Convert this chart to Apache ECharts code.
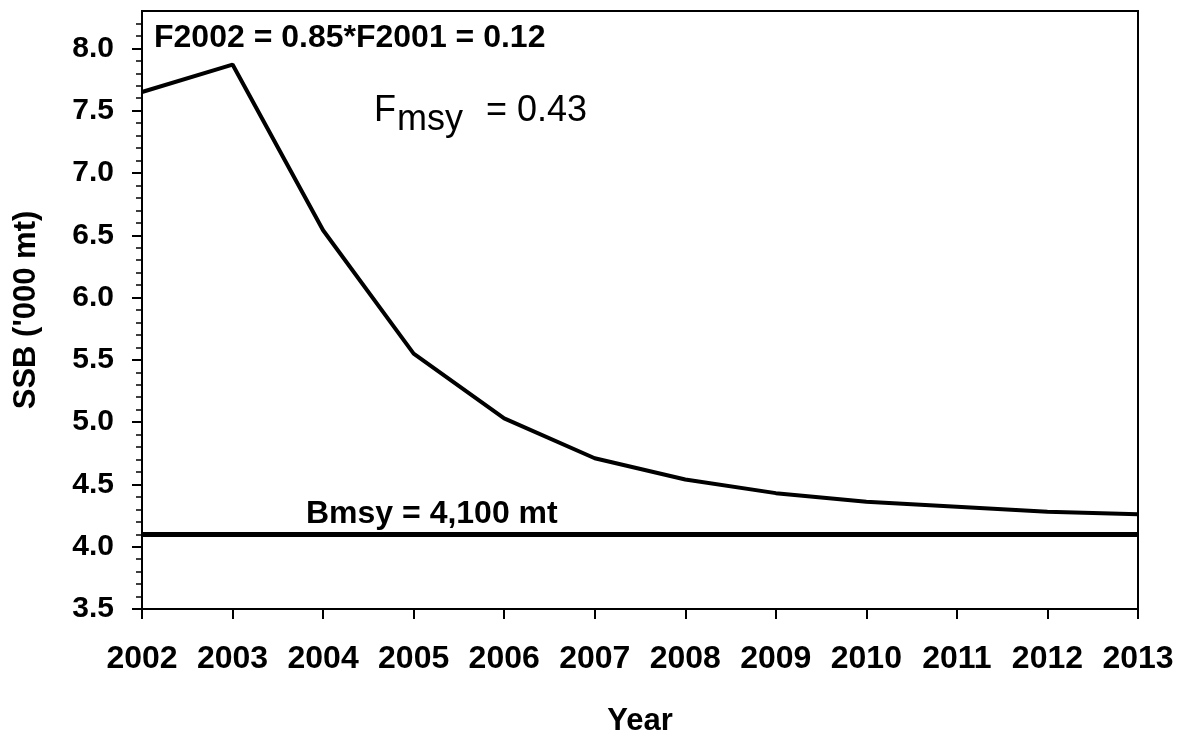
<!DOCTYPE html>
<html><head><meta charset="utf-8">
<script src="https://cdn.jsdelivr.net/npm/echarts@6/dist/echarts.min.js"></script>
<style>html,body{margin:0;padding:0;background:#fff}#c{width:1188px;height:736px}</style>
</head><body><div id="c"></div><script>
const years = ['2002','2003','2004','2005','2006','2007','2008','2009','2010','2011','2012','2013'];
const ssb = [7.65, 7.87, 6.54, 5.55, 5.03, 4.71, 4.54, 4.43, 4.36, 4.32, 4.28, 4.26];
const bmsy = 4.1;
const yMin = 3.5, yMax = 8.3;
const yMajorTicks = [3.5, 4.0, 4.5, 5.0, 5.5, 6.0, 6.5, 7.0, 7.5, 8.0];
const yMinorTicks = [3.6,3.7,3.8,3.9,4.1,4.2,4.3,4.4,4.6,4.7,4.8,4.9,5.1,5.2,5.3,5.4,5.6,5.7,5.8,5.9,6.1,6.2,6.3,6.4,6.6,6.7,6.8,6.9,7.1,7.2,7.3,7.4,7.6,7.7,7.8,7.9,8.1,8.2];

const FONT = '"Liberation Sans", Arial, sans-serif';
const chart = echarts.init(document.getElementById('c'), null, {renderer: 'canvas'});
chart.setOption({
  animation: false,
  backgroundColor: '#fff',
  grid: {left: 142, right: 50, top: 11, bottom: 127, show: true, borderColor: '#000', borderWidth: 2, backgroundColor: 'transparent', containLabel: false, outerBoundsMode: 'none'},
  xAxis: {
    type: 'category', data: years, boundaryGap: false,
    name: 'Year', nameLocation: 'middle', nameGap: 97,
    nameTextStyle: {fontFamily: FONT, fontWeight: 'bold', fontSize: 31, color: '#000'},
    axisLine: {show: true, lineStyle: {color: '#000', width: 2}},
    axisTick: {show: true, inside: false, length: 10, lineStyle: {color: '#000', width: 2}},
    axisLabel: {show: true, margin: 34, interval: 0, hideOverlap: false, fontFamily: FONT, fontWeight: 'bold', fontSize: 32, color: '#000'},
    splitLine: {show: false}
  },
  yAxis: [{
    type: 'value', min: yMin, max: yMax, position: 'left',
    name: "SSB ('000 mt)", nameLocation: 'middle', nameGap: 100, nameRotate: 90,
    nameTextStyle: {fontFamily: FONT, fontWeight: 'bold', fontSize: 31, color: '#000'},
    axisLine: {show: true, lineStyle: {color: '#000', width: 2}},
    axisTick: {show: true, inside: false, length: 10, customValues: yMajorTicks, lineStyle: {color: '#000', width: 2}},
    axisLabel: {show: true, margin: 28, customValues: yMajorTicks, hideOverlap: false, formatter: v => Number(v).toFixed(1), fontFamily: FONT, fontWeight: 'bold', fontSize: 30, color: '#000'},
    splitLine: {show: false}
  }, {
    type: 'value', min: yMin, max: yMax, position: 'left',
    axisLine: {show: false},
    axisTick: {show: true, inside: false, length: 6, customValues: yMinorTicks, lineStyle: {color: '#000', width: 1.5}},
    axisLabel: {show: false},
    splitLine: {show: false}
  }],
  series: [{
    type: 'line', data: ssb, yAxisIndex: 0, symbol: 'none',
    lineStyle: {color: '#000', width: 4}, z: 3,
    markLine: {
      silent: true, symbol: 'none', animation: false,
      label: {show: false},
      lineStyle: {color: '#000', width: 5, type: 'solid'},
      data: [{yAxis: bmsy}]
    }
  }],
  graphic: [
    {type: 'text', x: 154, y: 38, style: {text: 'F2002 = 0.85*F2001 = 0.12', font: 'bold 32px ' + FONT, fill: '#000', verticalAlign: 'middle', align: 'left'}},
    {type: 'text', x: 374, y: 111, style: {text: 'F', font: '36px ' + FONT, fill: '#000', verticalAlign: 'middle', align: 'left'}},
    {type: 'text', x: 397, y: 120, style: {text: 'msy', font: '36px ' + FONT, fill: '#000', verticalAlign: 'middle', align: 'left'}},
    {type: 'text', x: 486, y: 111, style: {text: '= 0.43', font: '36px ' + FONT, fill: '#000', verticalAlign: 'middle', align: 'left'}},
    {type: 'text', x: 306, y: 514, style: {text: 'Bmsy = 4,100 mt', font: 'bold 32px ' + FONT, fill: '#000', verticalAlign: 'middle', align: 'left'}}
  ]
});
</script></body></html>
